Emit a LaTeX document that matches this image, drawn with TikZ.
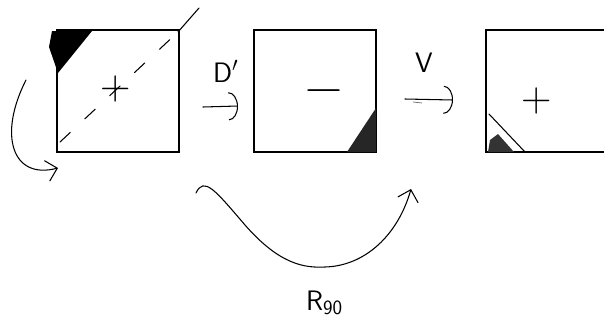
\documentclass[tikz,border=0pt]{standalone}
\usepackage{amsmath,amssymb}
\usepackage{tikz}
\usetikzlibrary{arrows.meta}

\begin{document}
\begin{tikzpicture}[x=0.03cm,y=-0.03cm,>=Latex,
  square/.style={draw,line width=0.9pt,minimum size=3.66cm,inner sep=0pt},
  sketch/.style={line width=0.9pt,line cap=round,line join=round},
  hook/.style={sketch,-{Arc Barb[length=8pt,width=24pt]}},
  barb/.style={sketch,-{Straight Barb[length=9pt,width=18pt]}},
  sign/.style={font=\fontsize{36}{40}\selectfont},
  lbl/.style={font=\fontsize{24}{28}\selectfont\sffamily}]
  \clip (0,0) rectangle (604,322);
  % the three squares
  \node[square] (box1) at (118,91) {};
  \node[square] (box2) at (315,91) {};
  \node[square] (box3) at (547,91) {};
  % shaded corners
  \fill (52,31) -- (92,31) -- (58,73) -- (49,47) -- cycle;
  \fill[black!85] (347,152) -- (376,108) -- (376,152) -- cycle;
  \draw[sketch] (489,114) -- (525,152);
  \fill[black!80] (490,140) -- (498,134) -- (514,152) -- (488,152) -- cycle;
  % diagonal of the first square
  \draw[sketch,dash pattern=on 12pt off 17pt] (60,142) -- (178,32);
  \draw[sketch] (178,32) -- (199,8);
  % signs
  \node[sign] (plus1) at (116,89) {+};
  \node[sign,font=\fontsize{44}{48}\selectfont] (minus2) at (324,97) {−};
  \node[sign] (plus3) at (537,101) {+};
  % arrows
  \coordinate (l1) at (26,80);
  \coordinate (l2) at (58,168);
  \draw[barb] (l1) .. controls (-2,135) and (12,180) .. (l2);
  \coordinate (d1) at (203,107);
  \coordinate (d2) at (238,106);
  \draw[hook] (d1) -- (d2);
  \node[lbl,anchor=base west] (lblD) at (209,82) {D$'$};
  \coordinate (v1) at (405,99);
  \coordinate (v2) at (453,100);
  \draw[hook] (v1) -- (v2);
  \draw[line width=0.6pt,black!60] (413,102) -- (422,103);
  \node[lbl,anchor=base] (lblV) at (424,72) {V};
  \coordinate (r1) at (196,193);
  \coordinate (r2) at (411,189);
  \draw[barb] (r1) .. controls (204,176) and (215,190) .. (245,225)
    .. controls (280,265) and (305,268) .. (325,267)
    .. controls (365,266) and (398,235) .. (r2);
  \node[lbl,anchor=base west] (lblR) at (302,310) {R$_{\mathsf{90}}$};
\end{tikzpicture}
\end{document}
